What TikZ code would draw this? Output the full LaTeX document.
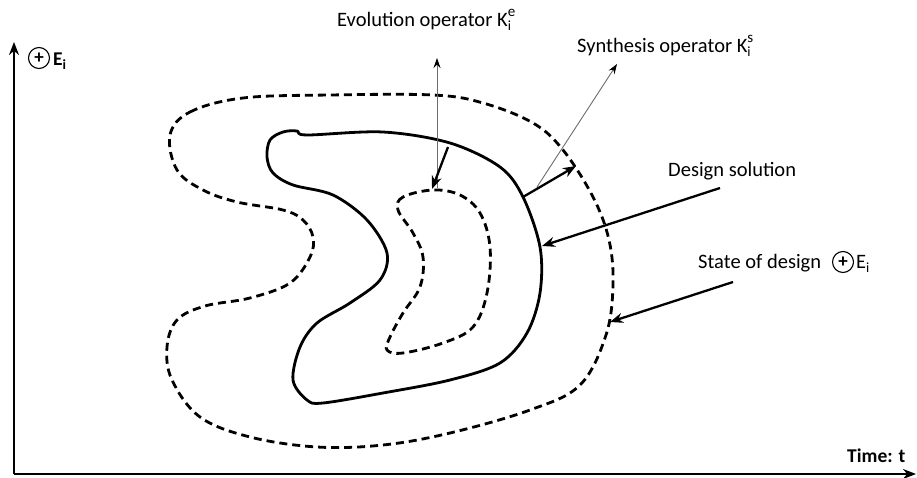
\documentclass[tikz,border=0pt]{standalone}
\usepackage{fontspec}
\setmainfont{Carlito}
\usetikzlibrary{arrows.meta}
\newcommand{\mysubsup}[2]{\rlap{\raisebox{-4pt}{\fontsize{14}{14}\selectfont #1}}\raisebox{10pt}{\fontsize{15}{15}\selectfont #2}}
\tikzset{
  axisline/.style={line width=2.6pt,-{Stealth[length=13pt,width=10pt]}},
  solidcurve/.style={line width=2.8pt,line join=round},
  dashcurve/.style={line width=2.8pt,dash pattern=on 8pt off 5pt},
  blackarrow/.style={line width=2.3pt,-{Stealth[length=13pt,width=10pt]}},
  grayarrow/.style={draw=gray!85!black,line width=0.9pt,-{Stealth[length=10pt,width=7pt,black]}},
  lbl/.style={font=\fontsize{20.5}{24}\selectfont,inner sep=0pt,anchor=base west},
  blbl/.style={font=\fontsize{19.5}{23}\selectfont\bfseries,inner sep=0pt,anchor=base west},
  circplus/.style={circle,draw,line width=1.1pt,minimum width=21pt,minimum height=21pt,inner sep=0pt,outer sep=0pt},
  plusmark/.style={font=\fontsize{19}{19}\selectfont\bfseries,inner sep=0pt},
}
\begin{document}
\begin{tikzpicture}[x=1pt,y=-1pt]
\useasboundingbox (0,0) rectangle (917,478);
% axes
\coordinate (origin) at (14,474);
\coordinate (ytop) at (14,42);
\coordinate (xend) at (916,474);
\draw[axisline] (origin) -- (ytop);
\draw[axisline] (origin) -- (xend);
\node[circplus] (cpa) at (39,58) {};
\node[plusmark] (pa) at (cpa.center) {+};
\node[blbl] (ei) at (53,66) {E\raisebox{-4pt}{\fontsize{14}{14}\selectfont i}};
\node[blbl] (time) at (847,462) {Time: t};

% outer dashed curve
\draw[dashcurve] plot[smooth cycle,tension=0.6] coordinates {
(170,135) (190,112) (243,98) (330,95) (433,95) (483,103) (533,123) (563,150)
(593,197) (609,240) (613,285) (606,335) (580,385) (530,410) (450,433) (383,445)
(317,447) (250,437) (200,417) (172,380) (167,347) (177,320) (205,306) (250,298)
(290,283) (310,257) (313,237) (303,220) (283,210) (237,202) (203,190) (177,170)};

% solid curve (design solution)
\draw[solidcurve] plot[smooth cycle,tension=0.55] coordinates {
(307,135) (297,131) (283,132) (270,140) (267,157) (273,173) (293,185) (333,195)
(367,220) (387,253) (380,280) (350,303) (317,323) (300,347) (293,380) (307,400)
(323,403) (383,393) (450,380) (500,363) (527,333) (540,293) (540,247) (523,197)
(500,167) (450,143) (383,132)};

% inner dashed curve
\draw[dashcurve] plot[smooth cycle,tension=0.6] coordinates {
(433,190) (403,197) (398,210) (413,233) (423,257) (420,287) (403,313) (390,337)
(387,350) (403,353) (443,343) (473,327) (487,293) (490,247) (480,213) (460,195)};

% labels
\node[lbl] (evo) at (337,27) {Evolution operator K\mysubsup{i}{e}};
\node[lbl] (syn) at (577,53) {Synthesis operator K\mysubsup{i}{s}};
\node[lbl] (des) at (668,177) {Design solution};
\node[lbl] (sta) at (698,268) {State of design};
\node[circplus] (cpb) at (843,262) {};
\node[plusmark] (pb) at (cpb.center) {+};
\node[lbl] (eib) at (856,268) {E\raisebox{-4pt}{\fontsize{14}{14}\selectfont i}};

% operator arrows
\coordinate (evoBase) at (437,188);
\coordinate (evoTip) at (437,58);
\coordinate (evoFrom) at (448,147);
\coordinate (evoTo) at (432,189);
\draw[grayarrow] (evoBase) -- (evoTip);
\draw[blackarrow] (evoFrom) -- (evoTo);

\coordinate (synBase) at (537,187);
\coordinate (synTip) at (617,64);
\coordinate (synFrom) at (523,197);
\coordinate (synTo) at (576,166);
\draw[grayarrow] (synBase) -- (synTip);
\draw[blackarrow] (synFrom) -- (synTo);

\coordinate (desFrom) at (720,188);
\coordinate (desTo) at (542,246);
\draw[blackarrow] (desFrom) -- (desTo);

\coordinate (staFrom) at (733,282);
\coordinate (staTo) at (610,322);
\draw[blackarrow] (staFrom) -- (staTo);
\end{tikzpicture}
\end{document}
